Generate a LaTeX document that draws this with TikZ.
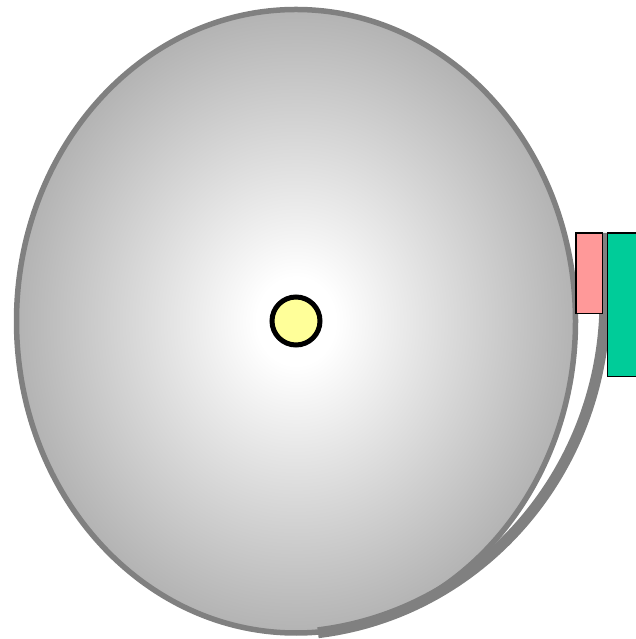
\documentclass[tikz,border=0pt]{standalone}
\definecolor{edgegray}{RGB}{179,179,179}
\definecolor{rimgray}{RGB}{128,128,128}
\definecolor{pinkfill}{RGB}{255,153,153}
\definecolor{greenfill}{RGB}{0,204,153}
\definecolor{hubfill}{RGB}{255,255,153}
\pgfdeclareradialshading{dishshade}{\pgfpoint{0bp}{0bp}}{color(0bp)=(white); color(3.5bp)=(white); color(25bp)=(edgegray); color(50bp)=(edgegray)}
\tikzset{
  rim/.style={draw=rimgray, line width=5.5pt},
  band/.style={draw=rimgray, line width=11pt, line cap=butt},
  block/.style={draw=black, line width=1.5pt},
  hub/.style={draw=black, fill=hubfill, line width=5pt}
}
\begin{document}
\begin{tikzpicture}[x=1pt,y=1pt]
\useasboundingbox (0,0) rectangle (635,639);
% dish
\path[shading=dishshade] (296,317.75) ellipse [x radius=279.5, y radius=311.75];
\draw[rim] (296,317.75) ellipse [x radius=279.5, y radius=311.75];
% curved band
\draw[band] (605,406) -- (605,339) arc[start angle=0, end angle=-83.29, x radius=325, y radius=335];
% blocks
\draw[block, fill=pinkfill] (576,406) rectangle (602.5,325.7);
\draw[block, fill=greenfill] (607.5,406) rectangle (645,262.3);
% hub
\draw[hub] (296,318) circle [radius=24];
\end{tikzpicture}
\end{document}
